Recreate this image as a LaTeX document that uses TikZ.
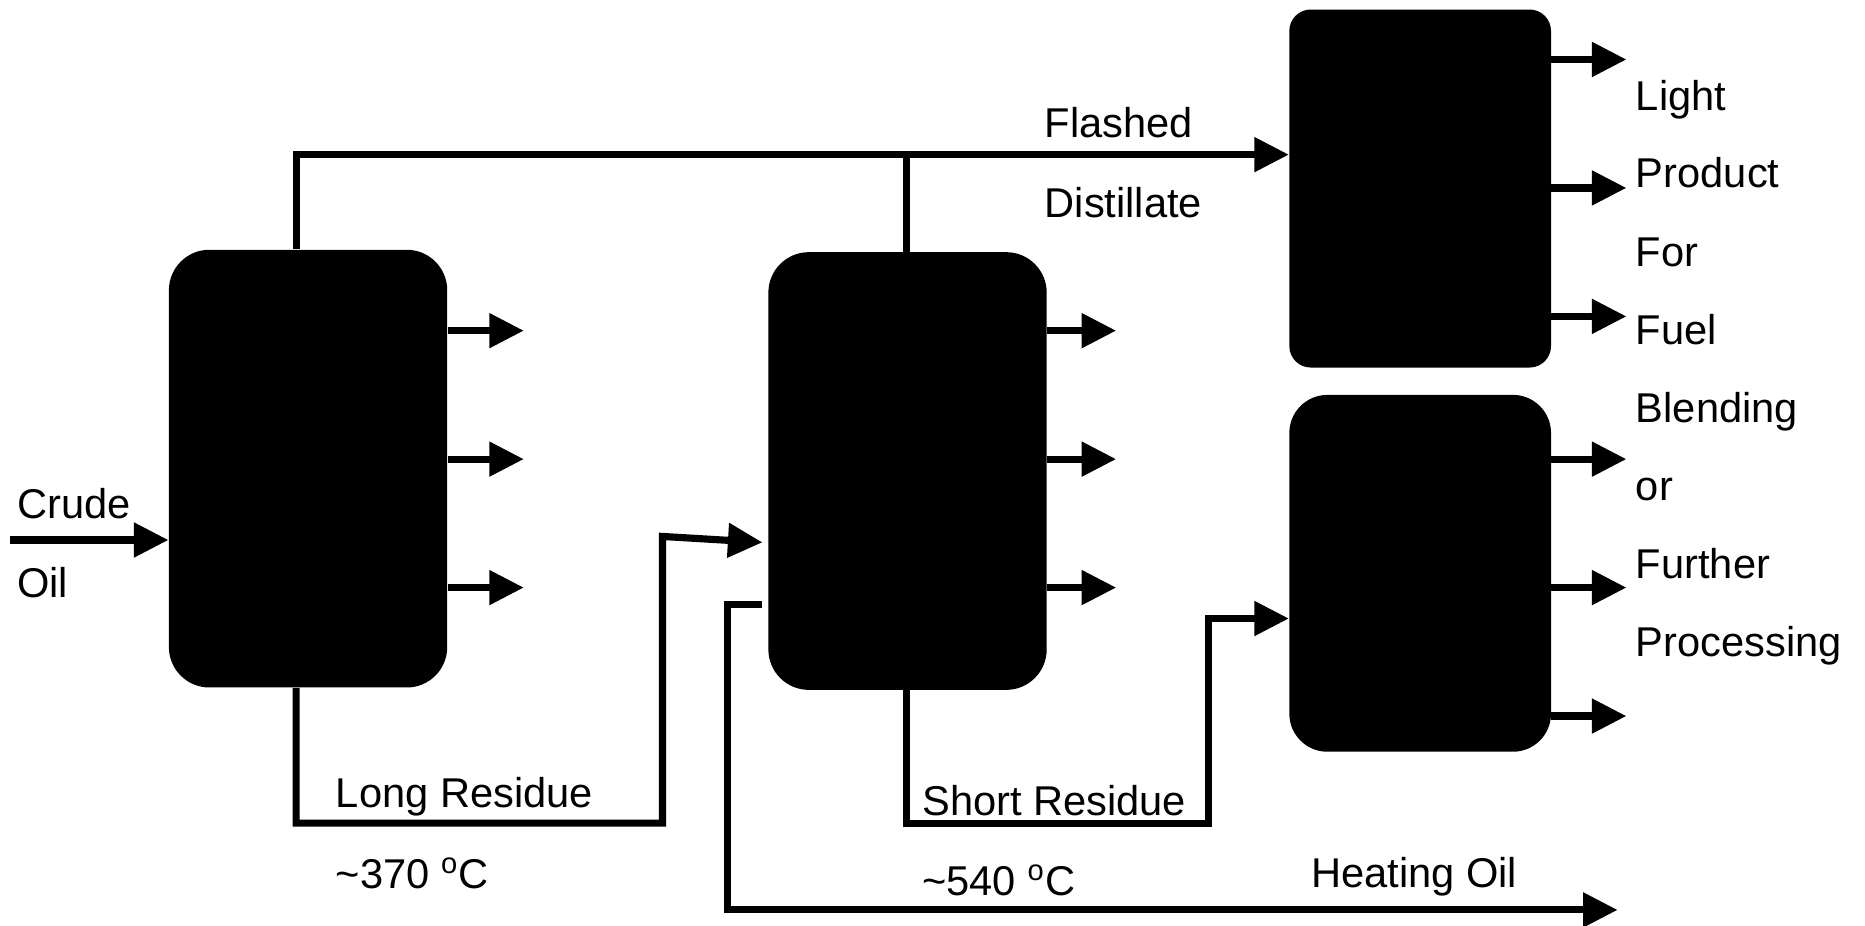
\documentclass[tikz,border=0pt]{standalone}
\usepackage{fontspec}
\setmainfont{Liberation Sans}
\usetikzlibrary{arrows.meta}
\begin{document}
\begin{tikzpicture}[x=0.5pt,y=-0.5pt,
  line/.style={line width=3pt},
  arr/.style={line width=3pt,-{Triangle[length=14.5pt,width=14pt]}},
  col/.style={fill=black,draw=none,rounded corners=17pt,minimum width=117pt,minimum height=184pt,inner sep=0pt},
  lbl/.style={anchor=base west,inner sep=0pt,font=\fontsize{17.5}{20}\selectfont}]
\useasboundingbox (0,0) rectangle (1568,778);
% vessels
\node[col] (c1) at (259,394) {};
\node[col] (c2) at (763,396) {};
\node[col,rounded corners=9pt,minimum width=110pt,minimum height=150.5pt] (b3) at (1194,158.5) {};
\node[col,rounded corners=16pt,minimum width=110pt,minimum height=150pt] (b4) at (1194,482) {};
% helper coordinates
\coordinate (top1) at (249,130);
\coordinate (top2) at (762,130);
\coordinate (crudein) at (8,454);
\coordinate (lr1) at (249,692);
\coordinate (lr2) at (557,692);
\coordinate (lr3) at (557,451);
\coordinate (lrin) at (641,456);
\coordinate (ho0) at (641,508);
\coordinate (ho1) at (612,508);
\coordinate (ho2) at (612,765);
\coordinate (hoend) at (1360,765);
\coordinate (sr1) at (762,692);
\coordinate (sr2) at (1016,692);
\coordinate (sr3) at (1016,520);
% flashed distillate line
\draw[arr] (c1.north -| top1) -- (top1) -- (top1 -| b3.west);
\draw[line] (c2.north -| top2) -- (top2);
% crude oil
\draw[arr] (crudein) -- (crudein -| c1.west);
% long residue
\draw[arr] (c1.south -| lr1) -- (lr1) -- (lr2) -- (lr3) -- (lrin);
% heating oil
\draw[arr] (ho0) -- (ho1) -- (ho2) -- (hoend);
% short residue
\draw[arr] (c2.south -| sr1) -- (sr1) -- (sr2) -- (sr3) -- (sr3 -| b4.west);
% side draws
\foreach \y in {278,386,494}{
  \draw[arr] (c1.east |- 0,\y) -- ++(64,0);
  \draw[arr] (c2.east |- 0,\y) -- ++(58,0);
}
\foreach \y in {50,158,266}{
  \draw[arr] (b3.east |- 0,\y) -- ++(63,0);
}
\foreach \y in {386,494,602}{
  \draw[arr] (b4.east |- 0,\y) -- ++(63,0);
}
% labels
\node[lbl] (crude) at (14,436) {Crude};
\node[lbl] (oil) at (14,502) {Oil};
\node[lbl] (fl) at (878,116) {Flashed};
\node[lbl] (di) at (878,183) {Distillate};
\node[lbl] (lr) at (282,679) {Long Residue};
\node[lbl] (t1) at (282,747) {\textasciitilde370 \textsuperscript{o}C};
\node[lbl] (sr) at (775,686) {Short Residue};
\node[lbl] (t2) at (775,753) {\textasciitilde540 \textsuperscript{o}C};
\node[lbl] (ho) at (1102,746) {Heating Oil};
\node[lbl] (r1) at (1375,93) {Light};
\node[lbl] (r2) at (1375,158) {Product};
\node[lbl] (r3) at (1375,224) {For};
\node[lbl] (r4) at (1375,290) {Fuel};
\node[lbl] (r5) at (1375,355) {Blending};
\node[lbl] (r6) at (1375,421) {or};
\node[lbl] (r7) at (1375,486) {Further};
\node[lbl] (r8) at (1375,552) {Processing};
\end{tikzpicture}
\end{document}
